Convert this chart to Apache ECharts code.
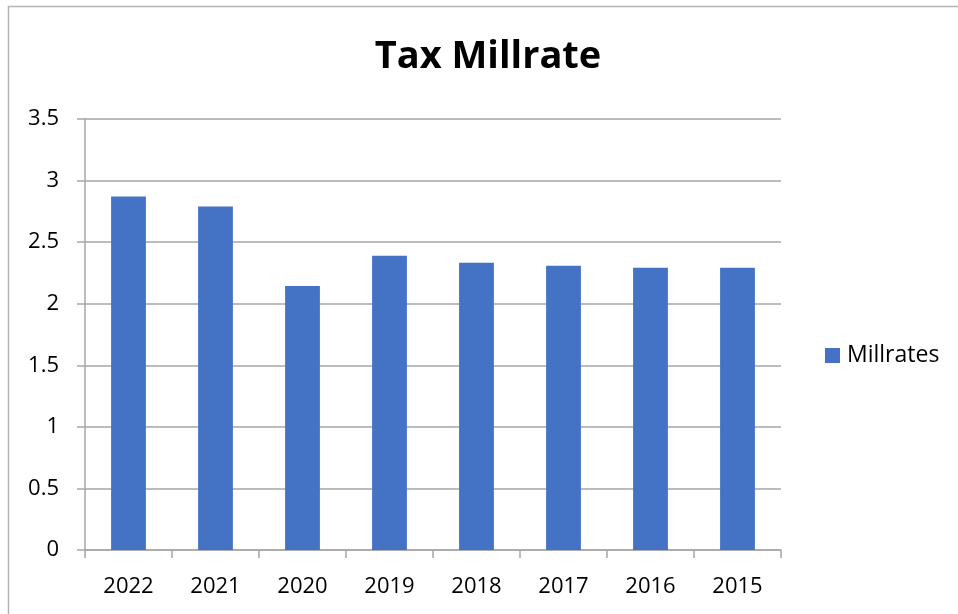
<!DOCTYPE html>
<html>
<head>
<meta charset="utf-8">
<script src="https://cdn.jsdelivr.net/npm/echarts@6/dist/echarts.min.js"></script>
<style>
  html, body { margin: 0; padding: 0; background: #fff; }
  #chart { width: 958px; height: 614px; }
</style>
</head>
<body>
<div id="chart"></div>
<script>
// Tax millrate by year
const years = ['2022', '2021', '2020', '2019', '2018', '2017', '2016', '2015'];
const millrates = [2.87, 2.79, 2.144, 2.39, 2.333, 2.309, 2.293, 2.293];
const yTicks = [0, 0.5, 1, 1.5, 2, 2.5, 3, 3.5];

const FONT = '"Open Sans", "Liberation Sans", sans-serif';
const GRID_COLOR = '#a6a6a6';

const chart = echarts.init(document.getElementById('chart'), null, { renderer: 'canvas' });

chart.setOption({
  backgroundColor: '#ffffff',
  animation: false,
  graphic: [{
    type: 'rect',
    silent: true,
    shape: { x: 8.5, y: 6.5, width: 1000, height: 700 },
    style: { fill: 'none', stroke: '#b4b4b4', lineWidth: 1.5 }
  }],
  title: {
    text: 'Tax Millrate',
    left: 488,
    textAlign: 'center',
    top: 38,
    padding: 0,
    textStyle: { fontFamily: FONT, fontSize: 38, fontWeight: 'bold', color: '#000' }
  },
  legend: {
    data: ['Millrates'],
    left: 825,
    top: 344,
    padding: 0,
    itemWidth: 15,
    itemHeight: 15,
    itemGap: 10,
    icon: 'rect',
    textStyle: { fontFamily: FONT, fontSize: 23, color: '#000', padding: [0, 0, 0, 2] }
  },
  grid: { left: 85, right: 177, top: 119, bottom: 64, containLabel: false },
  xAxis: {
    type: 'category',
    data: years,
    axisLine: { show: true, lineStyle: { color: GRID_COLOR, width: 1.5 } },
    axisTick: { show: true, length: 8, alignWithLabel: false, lineStyle: { color: GRID_COLOR, width: 1.5 } },
    axisLabel: { fontFamily: FONT, fontSize: 22, color: '#000', margin: 26 },
    splitLine: { show: false }
  },
  yAxis: {
    type: 'value',
    min: 0,
    max: 3.5,
    interval: 0.5,
    axisLine: { show: true, lineStyle: { color: GRID_COLOR, width: 1.5 } },
    axisTick: { show: true, length: 8, inside: false, lineStyle: { color: GRID_COLOR, width: 1.5 } },
    axisLabel: {
      fontFamily: FONT, fontSize: 22, color: '#000', margin: 26,
      formatter: v => (yTicks.includes(v) ? String(v) : '')
    },
    splitLine: { show: true, lineStyle: { color: GRID_COLOR, width: 1.5 } }
  },
  series: [{
    name: 'Millrates',
    type: 'bar',
    data: millrates,
    barWidth: '40%',
    itemStyle: { color: '#4472c4' }
  }]
});
</script>
</body>
</html>
